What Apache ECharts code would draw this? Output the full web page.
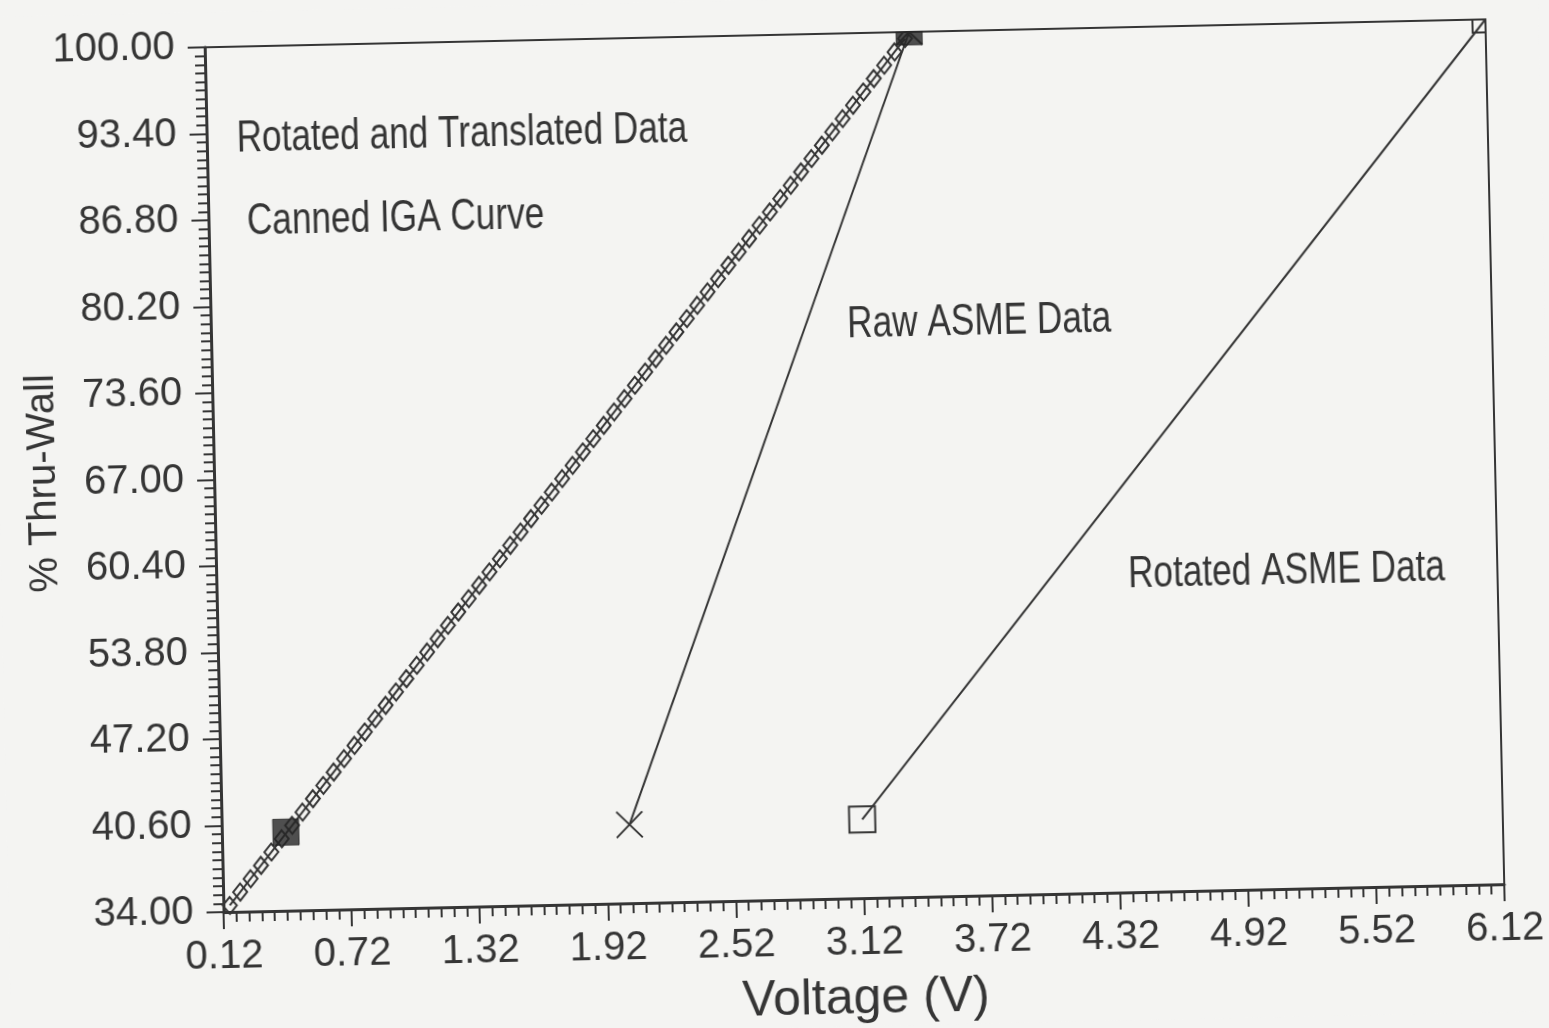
<!DOCTYPE html>
<html>
<head>
<meta charset="utf-8">
<script src="https://cdn.jsdelivr.net/npm/echarts@6/dist/echarts.min.js"></script>
<style>
  html, body { margin: 0; padding: 0; width: 1549px; height: 1028px; overflow: hidden; background: #f4f4f2; }
  #chart { width: 1549px; height: 1028px; transform: rotate(-1.25deg); transform-origin: 50% 50%; }
</style>
</head>
<body>
<div id="chart"></div>
<script>
// Canned IGA curve: voltage (V) and % thru-wall, one point every 0.05 V
const cannedV = [0.15, 0.20, 0.25, 0.30, 0.35, 0.40, 0.45, 0.50, 0.55, 0.60,
  0.65, 0.70, 0.75, 0.80, 0.85, 0.90, 0.95, 1.00, 1.05, 1.10,
  1.15, 1.20, 1.25, 1.30, 1.35, 1.40, 1.45, 1.50, 1.55, 1.60,
  1.65, 1.70, 1.75, 1.80, 1.85, 1.90, 1.95, 2.00, 2.05, 2.10,
  2.15, 2.20, 2.25, 2.30, 2.35, 2.40, 2.45, 2.50, 2.55, 2.60,
  2.65, 2.70, 2.75, 2.80, 2.85, 2.90, 2.95, 3.00, 3.05, 3.10,
  3.15, 3.20, 3.25, 3.30, 3.35, 3.40];
const cannedPct = [34.5, 35.5, 36.5, 37.5, 38.5, 39.5, 40.5, 41.5, 42.5, 43.5,
  44.5, 45.5, 46.5, 47.5, 48.5, 49.5, 50.5, 51.5, 52.5, 53.5,
  54.5, 55.5, 56.5, 57.5, 58.5, 59.5, 60.5, 61.5, 62.5, 63.5,
  64.5, 65.5, 66.5, 67.5, 68.5, 69.5, 70.5, 71.5, 72.5, 73.5,
  74.5, 75.5, 76.5, 77.5, 78.5, 79.5, 80.5, 81.5, 82.5, 83.5,
  84.5, 85.5, 86.5, 87.5, 88.5, 89.5, 90.5, 91.5, 92.5, 93.5,
  94.5, 95.5, 96.5, 97.5, 98.5, 99.5];

// ASME calibration standard, two points each
const rawV = [2.03, 3.42];
const rawPct = [40, 100];
const rotatedV = [3.12, 6.12];
const rotatedPct = [40, 100];
const translatedV = [0.42, 3.42];
const translatedPct = [40, 100];

// Axis ranges and tick steps
const xMin = 0.12, xMax = 6.12, xStep = 0.6;
const yMin = 34, yMax = 100, yStep = 6.6;

// In-plot captions, anchored in data units (left edge, vertical middle)
const noteText = ['Rotated and Translated Data', 'Canned IGA Curve', 'Raw ASME Data', 'Rotated ASME Data'];
const noteV = [0.26, 0.30, 3.10, 4.39];
const notePct = [92.9, 86.6, 77.7, 58.2];

const ink = '#353535';
const paper = '#f4f4f2';
const font = '"Liberation Sans", "DejaVu Sans Condensed", sans-serif';

const grid = { left: 215, top: 35, width: 1281, height: 865 };

const pairs = (xs, ys) => xs.map((x, i) => [x, ys[i]]);

const axisCommon = {
  type: 'value',
  nameLocation: 'middle',
  nameMoveOverlap: false,
  axisLine: { show: true, onZero: false, lineStyle: { color: ink, width: 3 } },
  axisTick: { show: true, inside: false, length: 17, lineStyle: { color: ink, width: 2 } },
  minorTick: { show: true, splitNumber: 10, length: 10, lineStyle: { color: ink, width: 2 } },
  splitLine: { show: false },
  minorSplitLine: { show: false },
  axisLabel: {
    color: ink, fontFamily: font, fontSize: 40,
    showMinLabel: true, showMaxLabel: true,
    formatter: v => v.toFixed(2)
  }
};

// plot frame clips markers sitting on the top and right edges
const frameMasks = [
  { id: 'maskTop', type: 'rect', z: 100, silent: true,
    shape: { x: grid.left + 2, y: 0, width: 1549 - grid.left, height: grid.top - 1 },
    style: { fill: paper } },
  { id: 'maskRight', type: 'rect', z: 100, silent: true,
    shape: { x: grid.left + grid.width + 1, y: 0, width: 200, height: grid.top + grid.height - 2 },
    style: { fill: paper } }
];

const chart = echarts.init(document.getElementById('chart'), null, { renderer: 'canvas' });
chart.setOption({
  backgroundColor: paper,
  animation: false,
  grid: Object.assign({
    show: true, borderColor: ink, borderWidth: 2, backgroundColor: 'transparent',
    containLabel: false, outerBoundsMode: 'none'
  }, grid),
  xAxis: Object.assign({}, axisCommon, {
    min: xMin, max: xMax, interval: xStep,
    name: 'Voltage (V)', nameGap: 76,
    nameTextStyle: { color: ink, fontFamily: font, fontSize: 50 },
    axisLabel: Object.assign({}, axisCommon.axisLabel, { margin: 25 })
  }),
  yAxis: Object.assign({}, axisCommon, {
    min: yMin, max: yMax, interval: yStep,
    name: '% Thru-Wall', nameGap: 150,
    nameTextStyle: { color: ink, fontFamily: font, fontSize: 40 },
    axisLabel: Object.assign({}, axisCommon.axisLabel, { margin: 30 })
  }),
  series: [
    {
      name: 'Canned IGA Curve', type: 'line',
      data: pairs(cannedV, cannedPct),
      symbol: 'diamond', symbolSize: [14, 17],
      lineStyle: { color: ink, width: 2 },
      itemStyle: { color: 'transparent', borderColor: ink, borderWidth: 2 },
      z: 3
    },
    {
      name: 'Raw ASME Data', type: 'line',
      data: pairs(rawV, rawPct),
      symbol: 'path://M0,0L10,10M10,0L0,10', symbolSize: 26,
      lineStyle: { color: ink, width: 2 },
      itemStyle: { color: 'transparent', borderColor: ink, borderWidth: 2 },
      z: 4
    },
    {
      name: 'Rotated ASME Data', type: 'line',
      data: pairs(rotatedV, rotatedPct),
      symbol: 'rect', symbolSize: 26,
      lineStyle: { color: ink, width: 2 },
      itemStyle: { color: 'transparent', borderColor: ink, borderWidth: 2 },
      z: 4
    },
    {
      name: 'Rotated and Translated Data', type: 'scatter',
      data: pairs(translatedV, translatedPct),
      symbol: 'rect', symbolSize: 26,
      itemStyle: { color: '#262626', borderColor: '#262626', borderWidth: 1 },
      z: 5
    }
  ],
  graphic: frameMasks
});

// Captions in a narrow plotter-style face, placed through the grid's data scale
const captions = noteText.map((t, i) => {
  const [px, py] = chart.convertToPixel({ gridIndex: 0 }, [noteV[i], notePct[i]]);
  return {
    id: 'caption' + i, type: 'text', x: px, y: py, scaleX: 0.8, z: 50, silent: true,
    style: { text: t, fontSize: 44, fontFamily: font, fill: ink, align: 'left', verticalAlign: 'middle' }
  };
});
chart.setOption({ graphic: frameMasks.concat(captions) });
</script>
</body>
</html>
